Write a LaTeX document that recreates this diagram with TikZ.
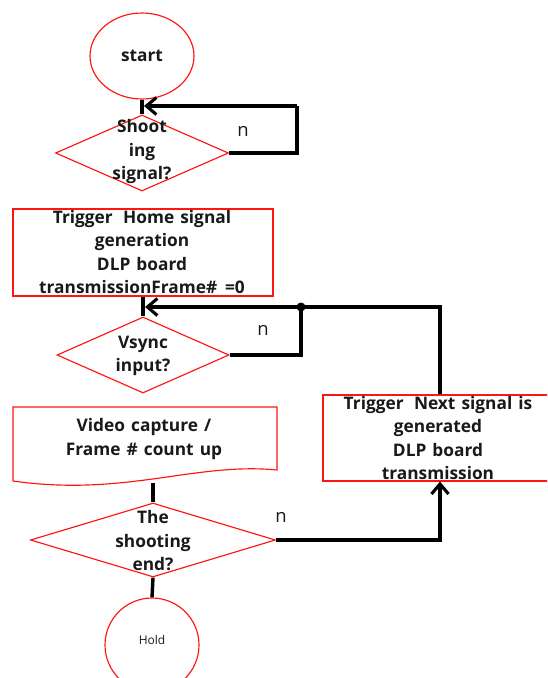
\documentclass[tikz,border=0pt]{standalone}
\usepackage{fontspec}
\setmainfont{Open Sans}[WordSpace=1.35]
\usetikzlibrary{shapes.geometric,arrows.meta}
\begin{document}
\begin{tikzpicture}[x=1pt,y=-1pt,
  outline/.style={draw=red!92!white, line width=1.15pt},
  dia/.style={outline, shape=diamond, inner sep=0pt},
  txt/.style={font=\bfseries\fontsize{17.3}{23.5}\selectfont, align=center, text=black!90, inner sep=0pt},
  flow/.style={line width=3.4pt, black},
  tip/.style={-{Straight Barb[length=10pt,width=17pt,line width=3.1pt]}},
  nlab/.style={font=\fontsize{18.5}{20}\selectfont, text=black!90}]
\useasboundingbox (0,0) rectangle (547,678);
\clip (0,0) rectangle (547,678);

% start terminal
\node[outline, ellipse, minimum width=104pt, minimum height=86pt, inner sep=0pt] (start) at (142,56) {};
\node[txt] at (start) {start};

% shooting signal decision
\node[dia, minimum width=173pt, minimum height=76pt] (d1) at (142,153) {};
\node[txt] at (142,152) {Shoot\\ing\\signal?};

% home trigger process
\node[outline, rectangle, minimum width=260pt, minimum height=87pt, inner sep=0pt] (r1) at (143,252.5) {};
\node[txt] at (142,252) {Trigger\hspace{0.6em}Home signal\\generation\\DLP board\\transmissionFrame\#\hspace{0.45em}=0};

% vsync decision
\node[dia, minimum width=172pt, minimum height=76pt] (d2) at (143,355) {};
\node[txt] at (143,356) {Vsync\\input?};

% video capture document shape
\draw[outline] (13,407) -- (277,407) -- (277,470)
  .. controls (195,462) and (125,497) .. (13,481) -- cycle;
\node[txt] (cap) at (144,439) {Video capture /\\Frame \# count up};
\coordinate (capb) at (153,483);

% shooting end decision
\node[dia, minimum width=245pt, minimum height=74pt] (d3) at (153,540) {};
\node[txt] at (153,541) {The\\shooting\\end?};

% next trigger process
\node[outline, rectangle, minimum width=234pt, minimum height=86pt, inner sep=0pt] (r2) at (440,438) {};
\node[txt] at (438,438) {Trigger\hspace{0.6em}Next signal is\\generated\\DLP board\\transmission};

% hold terminal
\node[outline, circle, minimum size=94pt, inner sep=0pt] (hold) at (152,645) {};
\node[font=\fontsize{12}{13}\selectfont, text=black!90] at (152,640) {Hold};

% junction points
\coordinate (j1) at (144,106);
\coordinate (c1) at (297,106);
\coordinate (j2) at (145,307);
\coordinate (k) at (301,307);

% connectors
\draw[flow] (start) -- (d1);
\draw[flow] (d1.east) -| (c1);
\draw[flow, tip] (c1) -- (j1);
\draw[flow] (r1) -- (d2);
\draw[flow] (d2.east) -| (k);
\draw[flow, tip] (k) -- (j2);
\fill (k) circle (4.5pt);
\draw[flow] (r2.north) |- (k);
\draw[flow] (capb) -- (d3.north);
\draw[flow, tip] (d3.east) -| (r2.south);
\draw[flow] (d3.south) -- (hold.north);

% branch labels
\node[nlab] at (243,131) {n};
\node[nlab] at (263,330) {n};
\node[nlab] at (281,517) {n};
\end{tikzpicture}
\end{document}
